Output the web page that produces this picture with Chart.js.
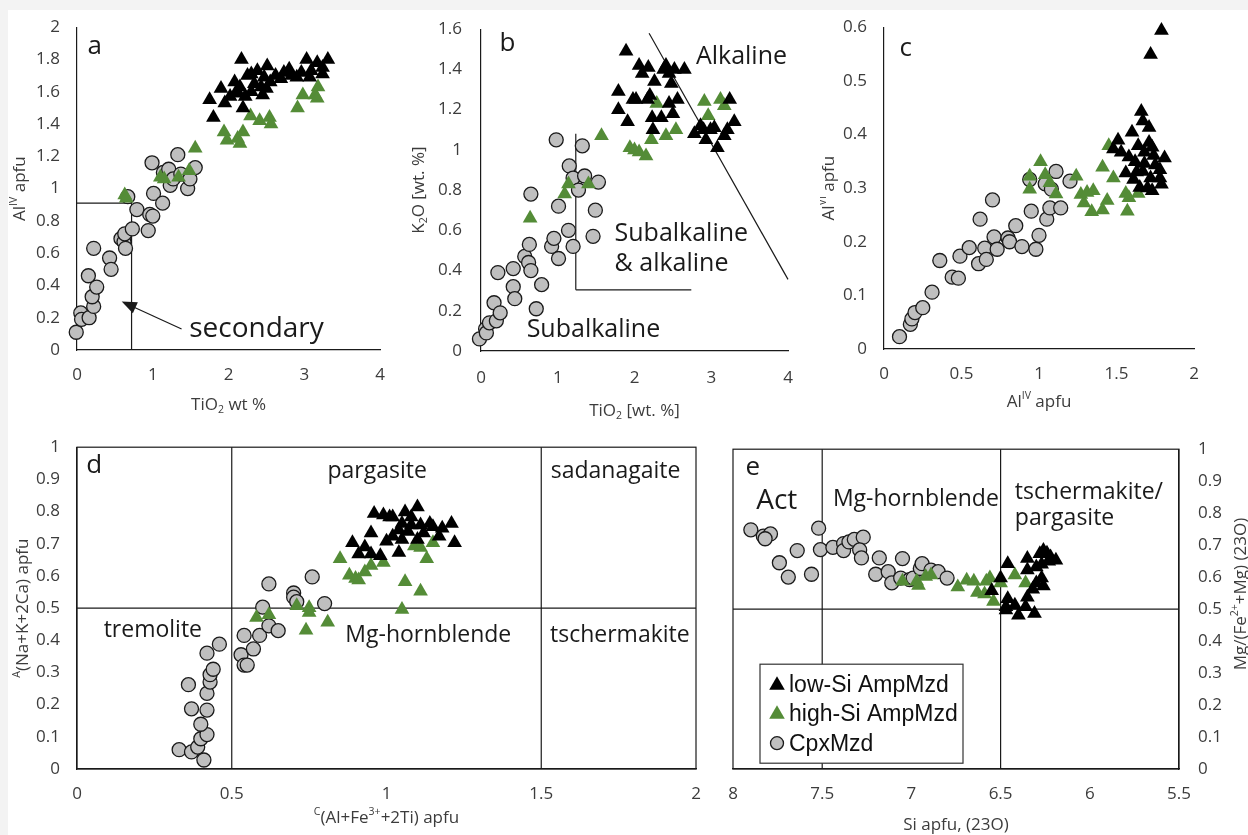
<!DOCTYPE html>
<html>
<head>
<meta charset="utf-8">
<script src="https://cdn.jsdelivr.net/npm/chart.js@4.4.1/dist/chart.umd.min.js"></script>
<style>
  body { margin: 0; background: #f3f3f3; }
  #page { position: relative; width: 1248px; height: 835px; overflow: hidden; }
  .sheet { position: absolute; left: 8px; top: 10px; right: 0; bottom: 0; background: #fff; }
  canvas { position: absolute; }
</style>
</head>
<body>
<div id="page">
  <div class="sheet"></div>
  <canvas id="pa" width="400" height="420" style="left:0;top:0"></canvas>
  <canvas id="pb" width="420" height="420" style="left:400px;top:0"></canvas>
  <canvas id="pc" width="428" height="420" style="left:820px;top:0"></canvas>
  <canvas id="pd" width="720" height="415" style="left:0;top:420px"></canvas>
  <canvas id="pe" width="528" height="415" style="left:720px;top:420px"></canvas>
</div>
<script>
const FONT = '"Open Sans", "DejaVu Sans", sans-serif'
const INK = "#1a1a1a"
const TICK = "#3c3c3c"

const SERIES = ["low-Si AmpMzd", "high-Si AmpMzd", "CpxMzd"]

// --- a: AlIV vs TiO2
const aTicksX = [0, 1, 2, 3, 4]
const aTicksY = [0, 0.2, 0.4, 0.6, 0.8, 1, 1.2, 1.4, 1.6, 1.8, 2]
const aLow = [[1.75,1.55],[1.8,1.44],[2.17,1.8],[1.9,1.62],[1.95,1.53],[2.02,1.57],[2.08,1.66],[2.09,1.59],[2.19,1.5],[2.22,1.57],
  [2.25,1.7],[2.3,1.6],[2.34,1.65],[2.38,1.73],[2.43,1.63],[2.45,1.58],[2.51,1.76],[2.55,1.66],[2.62,1.7],[2.73,1.72],
  [2.8,1.74],[2.83,1.7],[2.9,1.69],[2.96,1.72],[3.03,1.8],[3.09,1.73],[3.17,1.78],[3.24,1.71],[3.31,1.8],[2.3,1.71],
  [2.15,1.63],[2.47,1.69],[2.69,1.68],[3.24,1.75],[3.07,1.69],[2.5,1.62],[2.12,1.6]]
const aHigh = [[0.63,0.96],[0.65,0.94],[1.1,1.07],[1.15,1.06],[1.34,1.07],[1.48,1.11],[1.56,1.25],[1.94,1.35],[1.98,1.3],[2.12,1.31],
  [2.15,1.28],[2.19,1.35],[2.29,1.45],[2.41,1.42],[2.54,1.44],[2.56,1.4],[2.91,1.5],[2.98,1.58],[3.14,1.58],[3.17,1.56],[3.18,1.63]]
const aCpx = [[-0.01,0.11],[0.05,0.23],[0.06,0.19],[0.16,0.2],[0.22,0.27],[0.2,0.33],[0.26,0.39],[0.15,0.46],[0.22,0.63],[0.43,0.57],
  [0.45,0.5],[0.58,0.69],[0.62,0.67],[0.63,0.72],[0.64,0.63],[0.67,0.95],[0.73,0.75],[0.79,0.87],[0.94,0.74],[0.96,0.84],
  [1.0,0.83],[1.01,0.97],[0.99,1.16],[1.13,0.91],[1.14,1.1],[1.21,1.12],[1.23,1.02],[1.27,1.06],[1.33,1.21],[1.37,1.09],
  [1.46,1.0],[1.49,1.06],[1.56,1.13]]

// --- b: K2O vs TiO2
const bTicksX = [0, 1, 2, 3, 4]
const bTicksY = [0, 0.2, 0.4, 0.6, 0.8, 1, 1.2, 1.4, 1.6]
const bLow = [[1.89,1.49],[1.79,1.29],[1.79,1.2],[1.91,1.14],[2.02,1.25],[2.06,1.42],[2.1,1.38],[2.18,1.41],[2.2,1.27],[2.26,1.34],
  [2.23,1.16],[2.24,1.1],[2.35,1.16],[2.41,1.42],[2.45,1.38],[2.48,1.33],[2.45,1.23],[2.5,1.18],[2.56,1.25],[2.52,1.4],
  [2.65,1.4],[2.78,1.08],[2.86,1.12],[2.93,1.05],[2.99,1.1],[3.04,1.11],[3.08,1.01],[3.17,1.07],[3.24,1.25],[3.3,1.14],
  [3.21,1.1],[2.17,1.25],[1.98,1.25],[2.38,1.4],[2.9,1.1]]
const bHigh = [[0.64,0.66],[1.09,0.78],[1.14,0.83],[1.4,0.83],[1.57,1.07],[1.94,1.01],[2.0,1.0],[2.06,0.99],[2.15,0.97],[2.22,1.05],
  [2.29,1.23],[2.41,1.07],[2.54,1.1],[2.91,1.24],[2.96,1.17],[3.12,1.25],[3.17,1.22]]
const bCpx = [[-0.02,0.06],[0.06,0.11],[0.07,0.09],[0.11,0.14],[0.17,0.24],[0.2,0.15],[0.25,0.19],[0.22,0.39],[0.42,0.41],[0.42,0.32],
  [0.44,0.26],[0.57,0.47],[0.62,0.44],[0.63,0.53],[0.65,0.4],[0.65,0.78],[0.72,0.21],[0.79,0.33],[0.92,0.52],[0.95,0.56],
  [1.01,0.46],[1.01,0.72],[0.98,1.05],[1.14,0.6],[1.15,0.92],[1.2,0.52],[1.2,0.86],[1.27,0.8],[1.32,1.02],[1.35,0.87],
  [1.49,0.7],[1.46,0.57],[1.53,0.84]]

// --- c: AlVI vs AlIV
const cTicksX = [0, 0.5, 1, 1.5, 2]
const cTicksY = [0, 0.1, 0.2, 0.3, 0.4, 0.5, 0.6]
const cLow = [[1.79,0.594],[1.72,0.549],[1.66,0.443],[1.67,0.425],[1.71,0.413],[1.51,0.389],[1.6,0.404],[1.48,0.373],[1.53,0.367],[1.64,0.379],
  [1.71,0.385],[1.73,0.376],[1.81,0.356],[1.56,0.328],[1.62,0.349],[1.68,0.346],[1.75,0.343],[1.61,0.316],[1.72,0.319],[1.78,0.334],
  [1.79,0.307],[1.73,0.295],[1.65,0.301],[1.74,0.361],[1.67,0.331],[1.58,0.358],[1.78,0.319],[1.68,0.367],[1.63,0.33],[1.7,0.3]]
const cHigh = [[0.94,0.322],[0.94,0.298],[1.01,0.349],[1.04,0.325],[1.07,0.31],[1.11,0.289],[1.24,0.322],[1.27,0.288],[1.29,0.272],[1.31,0.292],
  [1.35,0.295],[1.34,0.256],[1.41,0.339],[1.41,0.259],[1.44,0.277],[1.45,0.379],[1.48,0.319],[1.56,0.29],[1.57,0.257],[1.64,0.29],[1.58,0.282]]
const cCpx = [[0.1,0.023],[0.17,0.046],[0.18,0.056],[0.2,0.068],[0.25,0.077],[0.31,0.106],[0.36,0.165],[0.44,0.134],[0.48,0.132],[0.49,0.173],
  [0.55,0.189],[0.61,0.159],[0.62,0.242],[0.65,0.188],[0.66,0.167],[0.7,0.278],[0.71,0.209],[0.73,0.186],[0.8,0.207],[0.81,0.2],
  [0.85,0.23],[0.89,0.191],[0.95,0.257],[0.94,0.316],[0.98,0.186],[1.0,0.212],[1.04,0.308],[1.05,0.242],[1.07,0.263],[1.08,0.298],
  [1.11,0.331],[1.14,0.263],[1.2,0.313]]

// --- d: A(Na+K+2Ca) vs C(Al+Fe3++2Ti)
const dTicksX = [0, 0.5, 1, 1.5, 2]
const dTicksY = [0, 0.1, 0.2, 0.3, 0.4, 0.5, 0.6, 0.7, 0.8, 0.9, 1]
const dLow = [[0.89,0.703],[0.91,0.668],[0.95,0.733],[0.96,0.794],[0.99,0.789],[1.01,0.783],[0.95,0.668],[0.98,0.663],[1.0,0.708],[1.02,0.723],
  [1.04,0.673],[1.05,0.763],[1.06,0.799],[1.07,0.738],[1.08,0.783],[1.08,0.758],[1.1,0.814],[1.1,0.713],[1.11,0.758],[1.12,0.733],
  [1.14,0.763],[1.15,0.753],[1.17,0.723],[1.18,0.748],[1.21,0.763],[1.22,0.703],[1.02,0.783],[1.05,0.713],[1.04,0.743],[0.93,0.69]]
const dHigh = [[0.58,0.471],[0.62,0.479],[0.71,0.507],[0.75,0.501],[0.75,0.486],[0.74,0.431],[0.81,0.456],[0.85,0.653],[0.88,0.602],[0.9,0.592],
  [0.91,0.587],[0.93,0.612],[0.95,0.632],[0.99,0.642],[1.05,0.496],[1.06,0.582],[1.09,0.693],[1.11,0.552],[1.11,0.688],[1.13,0.653],[1.15,0.703]]
const dCpx = [[0.33,0.06],[0.37,0.053],[0.39,0.068],[0.4,0.094],[0.41,0.028],[0.42,0.107],[0.4,0.139],[0.42,0.183],[0.37,0.187],[0.42,0.235],
  [0.36,0.262],[0.43,0.27],[0.43,0.293],[0.44,0.31],[0.42,0.36],[0.46,0.388],[0.53,0.355],[0.54,0.323],[0.55,0.323],[0.54,0.415],
  [0.57,0.373],[0.59,0.415],[0.62,0.445],[0.65,0.43],[0.6,0.503],[0.62,0.575],[0.7,0.547],[0.7,0.534],[0.71,0.52],[0.76,0.597],[0.8,0.514]]

// --- e: Mg/(Fe2++Mg) vs Si
const eTicksX = [5.5, 6, 6.5, 7, 7.5, 8]
const eTicksY = [0, 0.1, 0.2, 0.3, 0.4, 0.5, 0.6, 0.7, 0.8, 0.9, 1]
const eLow = [[6.46,0.642],[6.5,0.597],[6.55,0.557],[6.47,0.507],[6.46,0.532],[6.4,0.481],[6.42,0.512],[6.36,0.507],[6.31,0.486],[6.35,0.658],
  [6.35,0.622],[6.3,0.632],[6.28,0.673],[6.26,0.683],[6.24,0.675],[6.22,0.663],[6.19,0.653],[6.3,0.582],[6.26,0.572],[6.32,0.562],
  [6.35,0.537],[6.27,0.597],[6.47,0.497],[6.27,0.64],[6.23,0.65]]
const eHigh = [[7.05,0.587],[6.97,0.587],[6.96,0.574],[6.92,0.602],[6.89,0.607],[6.74,0.569],[6.69,0.59],[6.65,0.587],[6.63,0.552],[6.58,0.587],
  [6.56,0.597],[6.59,0.547],[6.54,0.524],[6.5,0.582],[6.42,0.607],[6.36,0.582]]
const eCpx = [[7.9,0.748],[7.83,0.728],[7.79,0.735],[7.82,0.72],[7.74,0.645],[7.69,0.6],[7.64,0.683],[7.56,0.609],[7.52,0.753],[7.51,0.686],
  [7.44,0.693],[7.38,0.705],[7.38,0.683],[7.35,0.71],[7.32,0.718],[7.27,0.725],[7.29,0.685],[7.28,0.66],[7.2,0.609],[7.18,0.66],
  [7.13,0.617],[7.11,0.582],[7.06,0.597],[7.05,0.658],[7.01,0.592],[6.99,0.597],[6.95,0.627],[6.94,0.642],[6.89,0.622],[6.85,0.617],[6.8,0.597]]

const STYLE = [
  { pointStyle: "triangle", backgroundColor: "#000", borderColor: "#000", borderWidth: 0, pointRadius: 8.5 },
  { pointStyle: "triangle", backgroundColor: "#548c37", borderColor: "#548c37", borderWidth: 0, pointRadius: 8.5 },
  { pointStyle: "circle", backgroundColor: "#bfbfbf", borderColor: "#1a1a1a", borderWidth: 1.3, pointRadius: 7 },
]

function sets(low, high, cpx) {
  return [low, high, cpx].map((pts, i) => Object.assign({
    label: SERIES[i],
    data: pts.map(p => ({ x: p[0], y: p[1] })),
    clip: false,
  }, STYLE[i]))
}

function axis(o) {
  return {
    type: "linear", min: o.min, max: o.max, reverse: !!o.reverse, position: o.position,
    grid: { display: false, drawTicks: false },
    border: { display: true, color: INK, width: 1.2 },
    ticks: {
      color: TICK, font: { family: FONT, size: 17 }, padding: o.pad,
      autoSkip: false, maxRotation: 0, minRotation: 0, callback: v => String(v),
    },
    afterBuildTicks: s => { s.ticks = o.ticks.map(v => ({ value: v })) },
    afterFit: s => { if (s.isHorizontal()) s.height = o.size; else s.width = o.size },
  }
}

// text with ^sup and _sub pieces
function richWidth(ctx, parts, size) {
  let w = 0
  parts.forEach(p => {
    const small = p[0] === "^" || p[0] === "_"
    ctx.font = `${small ? size * 0.62 : size}px ${FONT}`
    w += ctx.measureText(small ? p.slice(1) : p).width
  })
  return w
}

function drawRich(ctx, parts, cx, cy, size, rot) {
  ctx.save()
  ctx.translate(cx, cy)
  if (rot) ctx.rotate(rot)
  let x = -richWidth(ctx, parts, size) / 2
  ctx.fillStyle = TICK
  ctx.textBaseline = "middle"
  ctx.textAlign = "left"
  parts.forEach(p => {
    const mode = p[0]
    const small = mode === "^" || mode === "_"
    const t = small ? p.slice(1) : p
    ctx.font = `${small ? size * 0.62 : size}px ${FONT}`
    const dy = mode === "^" ? -size * 0.33 : mode === "_" ? size * 0.28 : 0
    ctx.fillText(t, x, dy)
    x += ctx.measureText(t).width
  })
  ctx.restore()
}

const decor = {
  id: "decor",
  beforeDatasetsDraw(chart, args, o) {
    const { ctx, chartArea: ca, scales: { x, y } } = chart
    const px = v => x.getPixelForValue(v)
    const py = v => y.getPixelForValue(v)
    ctx.save()
    ctx.strokeStyle = INK
    ctx.fillStyle = INK
    ctx.lineWidth = 1.2
    if (o.box) ctx.strokeRect(ca.left, ca.top, ca.width, ca.height)
    ;(o.lines || []).forEach(l => {
      ctx.beginPath()
      ctx.moveTo(px(l[0]), py(l[1]))
      ctx.lineTo(px(l[2]), py(l[3]))
      ctx.stroke()
    })
    ;(o.arrows || []).forEach(l => {
      const x0 = px(l[0]), y0 = py(l[1]), x1 = px(l[2]), y1 = py(l[3])
      const a = Math.atan2(y1 - y0, x1 - x0)
      ctx.beginPath()
      ctx.moveTo(x0, y0)
      ctx.lineTo(x1 - Math.cos(a) * 10, y1 - Math.sin(a) * 10)
      ctx.stroke()
      ctx.beginPath()
      ctx.moveTo(x1, y1)
      ctx.lineTo(x1 - Math.cos(a) * 15 + Math.sin(a) * 6, y1 - Math.sin(a) * 15 - Math.cos(a) * 6)
      ctx.lineTo(x1 - Math.cos(a) * 15 - Math.sin(a) * 6, y1 - Math.sin(a) * 15 + Math.cos(a) * 6)
      ctx.closePath()
      ctx.fill()
    })
    ;(o.texts || []).forEach(t => {
      ctx.font = `${t.size}px ${FONT}`
      ctx.textAlign = t.align || "left"
      ctx.textBaseline = "middle"
      ctx.fillText(t.text, px(t.x), py(t.y))
    })
    ctx.restore()
  },
  afterDraw(chart, args, o) {
    const { ctx, chartArea: ca } = chart
    const t = o.titles
    if (t) {
      drawRich(ctx, t.x, (ca.left + ca.right) / 2, ca.bottom + t.xOff, 17, 0)
      const yx = t.yOff < 0 ? ca.left + t.yOff : ca.right + t.yOff
      drawRich(ctx, t.y, yx, (ca.top + ca.bottom) / 2 + (t.yShift || 0), 17, -Math.PI / 2)
    }
    const lg = o.legend
    if (lg) {
      const left = ca.left + lg.dx, top = ca.top + lg.dy
      ctx.save()
      ctx.fillStyle = "#fff"
      ctx.fillRect(left, top, lg.w, lg.h)
      ctx.strokeStyle = "#333"
      ctx.lineWidth = 1.2
      ctx.strokeRect(left, top, lg.w, lg.h)
      chart.data.datasets.forEach((d, i) => {
        const cy = top + lg.rows[i]
        ctx.fillStyle = d.backgroundColor
        ctx.strokeStyle = d.borderColor
        ctx.lineWidth = d.borderWidth
        Chart.helpers.drawPoint(ctx, {
          pointStyle: d.pointStyle, radius: d.pointStyle === "circle" ? 6.5 : 9,
          borderWidth: d.borderWidth, rotation: 0,
        }, left + lg.mark, cy + (d.pointStyle === "circle" ? 0 : 1))
        ctx.fillStyle = "#111"
        ctx.font = `23px "Liberation Sans", Arial, sans-serif`
        ctx.textAlign = "left"
        ctx.textBaseline = "middle"
        ctx.fillText(d.label, left + lg.text, cy + 1)
      })
      ctx.restore()
    }
  },
}

function panel(id, c) {
  return new Chart(document.getElementById(id), {
    type: "scatter",
    data: { datasets: sets(c.low, c.high, c.cpx) },
    options: {
      responsive: false,
      animation: false,
      events: [],
      layout: { padding: c.padding },
      scales: { x: c.x, y: c.y },
      plugins: { legend: { display: false }, tooltip: { enabled: false }, decor: c.decor },
    },
    plugins: [decor],
  })
}

panel("pa", {
  low: aLow, high: aHigh, cpx: aCpx,
  padding: { top: 18, right: 10, left: 0, bottom: 0 },
  x: axis({ min: 0, max: 4, ticks: aTicksX, pad: 15, size: 70 }),
  y: axis({ min: 0, max: 2, ticks: aTicksY, pad: 17, size: 77 }),
  decor: {
    lines: [[0, 0.91, 0.72, 0.91], [0.72, 0.91, 0.72, 0]],
    arrows: [[1.38, 0.13, 0.59, 0.30]],
    texts: [
      { text: "a", x: 0.14, y: 1.88, size: 26 },
      { text: "secondary", x: 1.48, y: 0.13, size: 28 },
    ],
    titles: { x: ["TiO", "_2", " wt %"], xOff: 55, y: ["Al", "^IV", " apfu"], yOff: -57 },
  },
})

panel("pb", {
  low: bLow, high: bHigh, cpx: bCpx,
  padding: { top: 24, right: 32, left: 0, bottom: 0 },
  x: axis({ min: 0, max: 4, ticks: bTicksX, pad: 17, size: 69 }),
  y: axis({ min: 0, max: 1.6, ticks: bTicksY, pad: 19, size: 81 }),
  decor: {
    lines: [[1.235, 1.08, 1.235, 0.304], [1.235, 0.304, 2.74, 0.304], [2.19, 1.58, 4.0, 0.356]],
    texts: [
      { text: "b", x: 0.24, y: 1.53, size: 26 },
      { text: "Alkaline", x: 2.8, y: 1.46, size: 25 },
      { text: "Subalkaline", x: 1.74, y: 0.58, size: 25 },
      { text: "& alkaline", x: 1.74, y: 0.435, size: 25 },
      { text: "Subalkaline", x: 0.595, y: 0.107, size: 25 },
    ],
    titles: { x: ["TiO", "_2", " [wt. %]"], xOff: 60, y: ["K", "_2", "O [wt. %]"], yOff: -62 },
  },
})

panel("pc", {
  low: cLow, high: cHigh, cpx: cCpx,
  padding: { top: 18, right: 54, left: 0, bottom: 0 },
  x: axis({ min: 0, max: 2, ticks: cTicksX, pad: 15, size: 71 }),
  y: axis({ min: 0, max: 0.6, ticks: cTicksY, pad: 17, size: 64 }),
  decor: {
    texts: [{ text: "c", x: 0.1, y: 0.56, size: 26 }],
    titles: { x: ["Al", "^IV", " apfu"], xOff: 53, y: ["Al", "^VI", " apfu"], yOff: -55 },
  },
})

panel("pd", {
  low: dLow, high: dHigh, cpx: dCpx,
  padding: { top: 18, right: 24, left: 0, bottom: 0 },
  x: axis({ min: 0, max: 2, ticks: dTicksX, pad: 15, size: 66 }),
  y: axis({ min: 0, max: 1, ticks: dTicksY, pad: 17, size: 77 }),
  decor: {
    box: true,
    lines: [[0.5, 0, 0.5, 1], [1.5, 0, 1.5, 1], [0, 0.5, 2, 0.5]],
    texts: [
      { text: "d", x: 0.03, y: 0.944, size: 26 },
      { text: "pargasite", x: 0.97, y: 0.925, size: 23, align: "center" },
      { text: "sadanagaite", x: 1.74, y: 0.925, size: 23, align: "center" },
      { text: "tremolite", x: 0.245, y: 0.43, size: 23, align: "center" },
      { text: "Mg-hornblende", x: 1.135, y: 0.414, size: 23, align: "center" },
      { text: "tschermakite", x: 1.754, y: 0.414, size: 23, align: "center" },
    ],
    titles: {
      x: ["^C", "(Al+Fe", "^3+", "+2Ti) apfu"], xOff: 49,
      y: ["^A", "(Na+K+2Ca) apfu"], yOff: -54,
    },
  },
})

panel("pe", {
  low: eLow, high: eHigh, cpx: eCpx,
  padding: { top: 18, right: 0, left: 13, bottom: 0 },
  x: axis({ min: 5.5, max: 8, reverse: true, ticks: eTicksX, pad: 15, size: 66 }),
  y: axis({ min: 0, max: 1, ticks: eTicksY, pad: 19, size: 69, position: "right" }),
  decor: {
    box: true,
    lines: [[7.5, 0, 7.5, 1], [6.5, 0, 6.5, 1], [8, 0.5, 5.5, 0.5]],
    texts: [
      { text: "e", x: 7.93, y: 0.944, size: 26 },
      { text: "Act", x: 7.87, y: 0.839, size: 28 },
      { text: "Mg-hornblende", x: 7.44, y: 0.842, size: 23 },
      { text: "tschermakite/", x: 6.42, y: 0.864, size: 23 },
      { text: "pargasite", x: 6.42, y: 0.783, size: 23 },
    ],
    titles: { x: ["Si apfu, (23O)"], xOff: 56, y: ["Mg/(Fe", "^2+", "+Mg) (23O)"], yOff: 62, yShift: -15 },
    legend: { dx: 27, dy: 215, w: 203, h: 99, rows: [20, 49, 79], mark: 17, text: 29 },
  },
})
</script>
</body>
</html>
